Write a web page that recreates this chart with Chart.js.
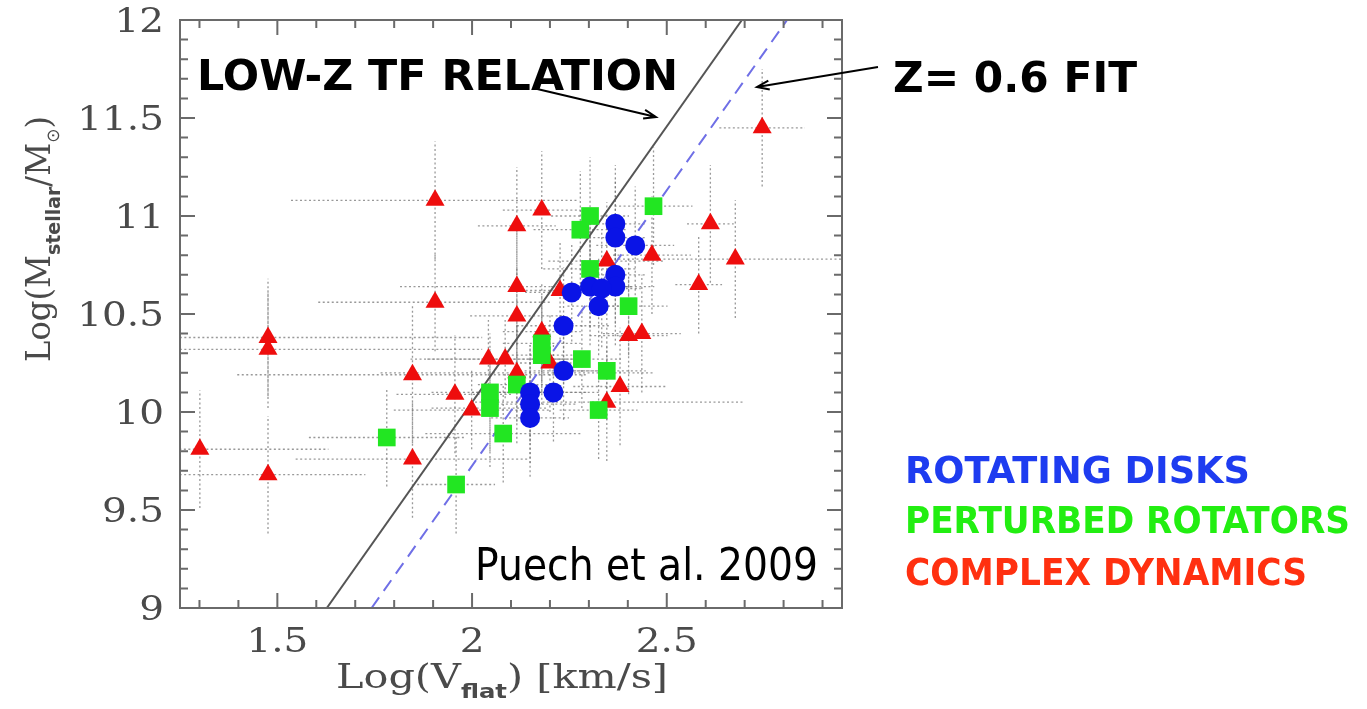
<!DOCTYPE html>
<html lang="en">
<head>
<meta charset="UTF-8">
<title>Stellar mass Tully-Fisher relation, Puech et al. 2009</title>
<script src="https://cdn.jsdelivr.net/npm/chart.js"></script>
<style>
    html, body {margin:0; padding:0; background:#fff;}
    #wrap {position:relative; width:1367px; height:709px;}
</style>
</head>
<body>
<div id="wrap"><canvas id="tf" width="1367" height="709"></canvas></div>
<script>
// rotating disks (blue circles)
const rdX    = [2.368, 2.368, 2.419, 2.368, 2.368, 2.256, 2.303, 2.333, 2.325, 2.235, 2.235, 2.149, 2.149, 2.149, 2.209];
const rdY    = [10.96, 10.89, 10.85, 10.70, 10.64, 10.61, 10.64, 10.63, 10.54, 10.44, 10.21, 10.10, 10.04, 9.97, 10.10];
const rdXErr = [0.08, 0.08, 0.10, 0.08, 0.10, 0.12, 0.10, 0.10, 0.08, 0.12, 0.10, 0.15, 0.12, 0.10, 0.12];
const rdYErr = [0.30, 0.30, 0.30, 0.25, 0.30, 0.25, 0.30, 0.30, 0.25, 0.30, 0.25, 0.25, 0.30, 0.30, 0.25];

// perturbed rotators (green squares)
const prX    = [1.781, 1.959, 2.046, 2.046, 2.080, 2.466, 2.303, 2.278, 2.303, 2.402, 2.179, 2.179, 2.282, 2.346, 2.115, 2.325];
const prY    = [9.87, 9.63, 10.10, 10.02, 9.89, 11.05, 11.00, 10.93, 10.73, 10.54, 10.35, 10.29, 10.27, 10.21, 10.14, 10.01];
const prXErr = [0.20, 0.10, 0.15, 0.15, 0.20, 0.10, 0.10, 0.12, 0.12, 0.10, 0.10, 0.10, 0.10, 0.10, 0.10, 0.10];
const prYErr = [0.25, 0.25, 0.30, 0.30, 0.25, 0.30, 0.30, 0.30, 0.30, 0.25, 0.25, 0.25, 0.25, 0.25, 0.30, 0.25];

// complex dynamics (red triangles)
const cdX    = [1.301, 1.476, 1.476, 1.476, 1.847, 1.847, 1.956, 1.999, 1.905, 2.042, 2.085, 1.905, 2.745, 2.179, 2.115,
                2.612, 2.676, 2.462, 2.346, 2.115, 2.582, 2.226, 2.115, 2.402, 2.436, 2.179, 2.200, 2.115, 2.380, 2.346];
const cdY    = [9.81, 10.38, 10.32, 9.68, 10.19, 9.76, 10.09, 10.01, 10.56, 10.27, 10.27, 11.08, 11.45, 11.03, 10.95,
                10.96, 10.78, 10.80, 10.77, 10.64, 10.65, 10.62, 10.49, 10.39, 10.40, 10.41, 10.25, 10.20, 10.13, 10.05];
const cdXErr = [0.33, 0.55, 0.55, 0.25, 0.45, 0.30, 0.15, 0.20, 0.30, 0.20, 0.20, 0.37, 0.11, 0.10, 0.10,
                0.06, 0.30, 0.10, 0.15, 0.30, 0.06, 0.10, 0.12, 0.10, 0.10, 0.10, 0.10, 0.35, 0.12, 0.35];
const cdYErr = [0.30, 0.30, 0.30, 0.30, 0.35, 0.30, 0.30, 0.20, 0.25, 0.20, 0.20, 0.30, 0.30, 0.30, 0.30,
                0.30, 0.30, 0.30, 0.30, 0.30, 0.25, 0.25, 0.25, 0.30, 0.30, 0.25, 0.25, 0.25, 0.30, 0.30];

// relations: local TF and z=0.6 fit (end points on the frame)
const lowZX = [1.627, 2.693];
const lowZY = [9, 12];
const fitX  = [1.742, 2.809];
const fitY  = [9, 12];

// axes
const xMin = 1.25, xMax = 2.95, yMin = 9, yMax = 12;
const xTicks = [1.5, 2, 2.5];
const xTickLabels = ['1.5', '2', '2.5'];
const yTicks = [9, 9.5, 10, 10.5, 11, 11.5, 12];
const yTickLabels = ['9', '9.5', '10', '10.5', '11', '11.5', '12'];
const minorStep = 0.1;

const pts = (xs, ys) => xs.map((x, i) => ({x: x, y: ys[i]}));

function drawText(ctx, text, font, color, x, y, sx, align) {
    ctx.save();
    ctx.font = font;
    ctx.fillStyle = color;
    ctx.textBaseline = 'alphabetic';
    const w = ctx.measureText(text).width * sx;
    let left = x;
    if (align === 'center') left = x - w / 2;
    if (align === 'right') left = x - w;
    ctx.translate(left, y);
    ctx.scale(sx, 1);
    ctx.textAlign = 'left';
    ctx.fillText(text, 0, 0);
    ctx.restore();
}

function fitText(ctx, text, font, color, left, y, width) {
    ctx.save();
    ctx.font = font;
    const sx = width / ctx.measureText(text).width;
    ctx.restore();
    drawText(ctx, text, font, color, left, y, sx, 'left');
}

// runs of text with subscripts, stretched to a given length
function drawRun(ctx, parts, length, color) {
    let total = 0;
    parts.forEach(p => { ctx.font = p.font; p.w = ctx.measureText(p.t).width; total += p.w; });
    const sx = length / total;
    ctx.save();
    ctx.scale(sx, 1);
    ctx.fillStyle = color;
    ctx.textAlign = 'left';
    let cx = 0;
    parts.forEach(p => { ctx.font = p.font; ctx.fillText(p.t, cx, p.dy || 0); cx += p.w; });
    ctx.restore();
}

function arrow(ctx, x0, y0, x1, y1) {
    const a = Math.atan2(y1 - y0, x1 - x0), h = 13;
    ctx.beginPath();
    ctx.moveTo(x0, y0); ctx.lineTo(x1, y1);
    ctx.moveTo(x1 - h * Math.cos(a - 0.35), y1 - h * Math.sin(a - 0.35));
    ctx.lineTo(x1, y1);
    ctx.lineTo(x1 - h * Math.cos(a + 0.35), y1 - h * Math.sin(a + 0.35));
    ctx.stroke();
}

const errorBars = {
    id: 'errorBars',
    beforeDatasetsDraw(chart) {
        const {ctx, chartArea: ca, scales: {x, y}} = chart;
        ctx.save();
        ctx.beginPath();
        ctx.rect(ca.left, ca.top, ca.right - ca.left, ca.bottom - ca.top);
        ctx.clip();
        ctx.strokeStyle = 'rgba(110,110,110,0.7)';
        ctx.lineWidth = 1.3;
        ctx.setLineDash([2, 2.5]);
        chart.data.datasets.forEach(ds => {
            if (!ds.errX) return;
            ds.data.forEach((p, i) => {
                const px = x.getPixelForValue(p.x), py = y.getPixelForValue(p.y);
                ctx.beginPath();
                ctx.moveTo(x.getPixelForValue(p.x - ds.errX[i]), py);
                ctx.lineTo(x.getPixelForValue(p.x + ds.errX[i]), py);
                ctx.moveTo(px, y.getPixelForValue(p.y - ds.errY[i]));
                ctx.lineTo(px, y.getPixelForValue(p.y + ds.errY[i]));
                ctx.stroke();
            });
        });
        ctx.restore();
    }
};

const decor = {
    id: 'decor',
    afterDraw(chart) {
        const {ctx, chartArea: ca, scales: {x, y}} = chart;
        const axisCol = '#6a6a6a', labelCol = '#4a4a4a';
        ctx.save();
        // frame and inward ticks on all four sides
        ctx.strokeStyle = axisCol;
        ctx.lineWidth = 2;
        ctx.strokeRect(ca.left, ca.top, ca.right - ca.left, ca.bottom - ca.top);
        ctx.beginPath();
        for (let v = Math.ceil(xMin * 10) / 10; v <= xMax + 1e-9; v = Math.round((v + minorStep) * 10) / 10) {
            const px = x.getPixelForValue(v);
            const len = xTicks.includes(v) ? 15 : 8;
            ctx.moveTo(px, ca.bottom); ctx.lineTo(px, ca.bottom - len);
            ctx.moveTo(px, ca.top); ctx.lineTo(px, ca.top + len);
        }
        for (let v = yMin + minorStep; v < yMax - 1e-9; v = Math.round((v + minorStep) * 10) / 10) {
            const py = y.getPixelForValue(v);
            const len = yTicks.includes(v) ? 15 : 8;
            ctx.moveTo(ca.left, py); ctx.lineTo(ca.left + len, py);
            ctx.moveTo(ca.right, py); ctx.lineTo(ca.right - len, py);
        }
        ctx.stroke();

        // tick labels
        const tickFont = '33px "DejaVu Serif"';
        yTicks.forEach((v, i) => drawText(ctx, yTickLabels[i], tickFont, labelCol, 164, y.getPixelForValue(v) + 12, 1.18, 'right'));
        xTicks.forEach((v, i) => drawText(ctx, xTickLabels[i], tickFont, labelCol, x.getPixelForValue(v), 652, 1.18, 'center'));

        // axis titles
        const big = '34px "DejaVu Serif"', sub = 'bold 20px "DejaVu Sans"';
        ctx.save();
        ctx.translate(336, 688);
        drawRun(ctx, [{t: 'Log(V', font: big}, {t: 'flat', font: sub, dy: 10}, {t: ') [km/s]', font: big}], 332, labelCol);
        ctx.restore();
        ctx.save();
        ctx.translate(50, 362);
        ctx.rotate(-Math.PI / 2);
        drawRun(ctx, [{t: 'Log(M', font: big}, {t: 'stellar', font: sub, dy: 10}, {t: '/M', font: big},
                      {t: '\u2299', font: '18px "DejaVu Sans"', dy: 9}, {t: ')', font: big}], 246, labelCol);
        ctx.restore();

        // annotations
        const anno = 'bold 42px "DejaVu Sans"';
        fitText(ctx, 'LOW-Z TF RELATION', anno, '#000', 197, 90, 481);
        fitText(ctx, 'Z= 0.6 FIT', anno, '#000', 893, 92, 244);
        fitText(ctx, 'Puech et al. 2009', '44px "DejaVu Sans"', '#000', 475, 580, 343);
        ctx.strokeStyle = '#000';
        ctx.lineWidth = 2;
        ctx.setLineDash([]);
        arrow(ctx, 533, 88, 656, 117);
        arrow(ctx, 878, 67, 757, 87);

        // colour key
        const key = 'bold 38px "DejaVu Sans"';
        fitText(ctx, 'ROTATING DISKS', key, '#1e3cf0', 905, 483, 345);
        fitText(ctx, 'PERTURBED ROTATORS', key, '#22ee11', 905, 533, 445);
        fitText(ctx, 'COMPLEX DYNAMICS', key, '#ff3010', 905, 585, 402);
        ctx.restore();
    }
};

new Chart(document.getElementById('tf'), {
    type: 'scatter',
    data: {
        datasets: [
            {label: 'Rotating disks', data: pts(rdX, rdY), errX: rdXErr, errY: rdYErr,
             pointStyle: 'circle', pointRadius: 10, backgroundColor: '#0a14e6', borderColor: '#0a14e6', borderWidth: 0},
            {label: 'Perturbed rotators', data: pts(prX, prY), errX: prXErr, errY: prYErr,
             pointStyle: 'rect', pointRadius: 12.5, backgroundColor: '#22e622', borderColor: '#22e622', borderWidth: 0},
            {label: 'Complex dynamics', data: pts(cdX, cdY), errX: cdXErr, errY: cdYErr,
             pointStyle: 'triangle', pointRadius: 11, backgroundColor: '#ee0d0d', borderColor: '#ee0d0d', borderWidth: 0},
            {type: 'line', label: 'Low-z TF relation', data: pts(lowZX, lowZY), showLine: true,
             borderColor: '#555', borderWidth: 2, pointRadius: 0},
            {type: 'line', label: 'z=0.6 fit', data: pts(fitX, fitY), showLine: true,
             borderColor: '#6f6fe6', borderWidth: 2, borderDash: [13, 8], pointRadius: 0}
        ]
    },
    options: {
        responsive: false,
        animation: false,
        events: [],
        layout: {padding: {left: 180, right: 525, top: 20, bottom: 101}},
        scales: {
            x: {type: 'linear', min: xMin, max: xMax, display: false},
            y: {type: 'linear', min: yMin, max: yMax, display: false}
        },
        plugins: {legend: {display: false}, tooltip: {enabled: false}}
    },
    plugins: [errorBars, decor]
});
</script>
</body>
</html>
